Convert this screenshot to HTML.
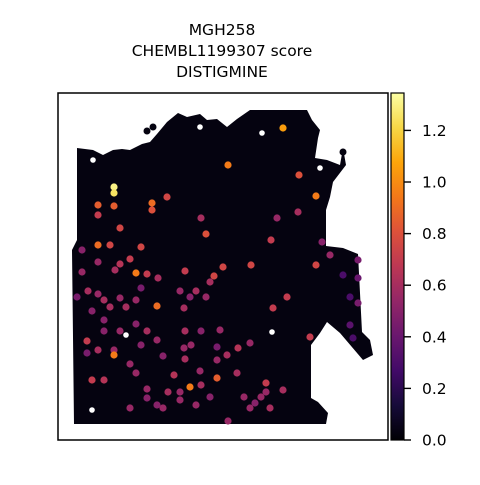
<!DOCTYPE html>
<html><head><meta charset="utf-8"><style>
body{margin:0;background:#fff;}
svg text{font-family:"DejaVu Sans","Liberation Sans",sans-serif;fill:#000;}
</style></head><body>
<svg id="chart" width="480" height="480" viewBox="0 0 480 480">
<defs>
<linearGradient id="inf" x1="0" y1="1" x2="0" y2="0">
<stop offset="0" stop-color="#000004"/><stop offset="0.1" stop-color="#160b39"/><stop offset="0.2" stop-color="#420a68"/><stop offset="0.3" stop-color="#6a176e"/><stop offset="0.4" stop-color="#932667"/><stop offset="0.5" stop-color="#bc3754"/><stop offset="0.6" stop-color="#dd513a"/><stop offset="0.7" stop-color="#f37819"/><stop offset="0.8" stop-color="#fca50a"/><stop offset="0.9" stop-color="#f6d746"/><stop offset="1" stop-color="#fcffa4"/>
</linearGradient>
</defs>
<g>
<text x="222" y="35" font-size="15.5" text-anchor="middle">MGH258</text>
<text x="222" y="56" font-size="15.5" text-anchor="middle">CHEMBL1199307 score</text>
<text x="222" y="77" font-size="15.5" text-anchor="middle">DISTIGMINE</text>
</g>
<rect x="58" y="93" width="330" height="347" fill="#fff" stroke="#000" stroke-width="1.5"/>
<polygon fill="#050310" points="77,148 93,150 103,155 113,150 122,149 130,150 142,144 150,142 157,134 167,122 178,113 187,117 200,114 207,120 217,119 227,127 237,119 250,110 307,110 312,120 320,130 318,138 315,158 327,160 340,165 343,148 346,165 333,182 330,197 326,210 326,246 343,248 358,254 362,332 370,340 373,355 363,360 340,333 327,322 320,333 311,345 311,398 318,402 328,413 326,424 74,424 72,250 77,240"/>
<g id="extra-spots"></g>
<g id="spots"></g>
<rect x="391" y="93" width="13" height="347" fill="url(#inf)" stroke="#000" stroke-width="1.2"/>
<g id="cticks"></g>
</svg>
<script>
const spotX=[283,228,299,316,114,114,98,114,152,167,152,98,201,277,298,120,206,98,82,110,141,271,322,316,330,343,358,358,350,358,350,353,136,130,120,115,98,82,147,158,185,223,251,214,210,157,77,88,98,104,120,126,136,141,110,92,180,196,206,190,184,136,120,104,104,87,98,114,147,141,157,163,185,191,201,220,238,227,217,217,250,273,287,310,87,114,130,136,184,185,237,217,200,174,92,104,147,147,168,180,190,201,180,163,157,196,210,228,244,250,255,261,266,270,283,266,130];
const spotY=[128,165,175,196,187,193,205,206,203,197,210,215,218,218,212,228,234,245,250,245,247,240,242,265,255,275,260,278,297,303,325,338,273,259,264,270,262,272,274,278,271,267,265,276,282,306,297,291,294,300,298,307,300,288,307,311,291,291,297,297,308,324,331,320,331,341,350,350,331,345,340,356,331,345,331,330,348,355,347,360,343,308,297,337,353,355,364,373,348,359,373,378,371,375,380,380,389,398,392,400,387,385,392,408,405,405,397,421,397,408,403,397,383,408,390,392,408];
const spotValue=[1.05,0.95,0.8,0.95,1.3,1.25,0.85,0.85,0.9,0.75,0.8,0.7,0.6,0.55,0.6,0.75,0.8,0.9,0.5,0.75,0.75,0.7,0.5,0.75,0.55,0.3,0.45,0.4,0.3,0.45,0.35,0.3,0.95,0.7,0.65,0.6,0.55,0.55,0.7,0.6,0.7,0.75,0.75,0.75,0.6,0.9,0.45,0.6,0.55,0.6,0.55,0.6,0.55,0.45,0.6,0.5,0.55,0.6,0.55,0.5,0.6,0.5,0.55,0.5,0.5,0.7,0.6,0.55,0.6,0.5,0.55,0.5,0.6,0.55,0.5,0.55,0.65,0.6,0.45,0.55,0.55,0.7,0.7,0.7,0.45,0.95,0.55,0.55,0.55,0.6,0.6,0.85,0.55,0.65,0.7,0.65,0.55,0.5,0.6,0.55,0.95,0.6,0.55,0.55,0.5,0.55,0.5,0.55,0.55,0.55,0.5,0.55,0.7,0.6,0.6,0.55,0.55];
const tickValues=[0,0.2,0.4,0.6,0.8,1.0,1.2];
const tickLabels=["0.0","0.2","0.4","0.6","0.8","1.0","1.2"];
const vmax=1.345;
const gapX=[93,200,262,320,272,126,92];
const gapY=[160,127,133,168,332,335,410];
const satX=[147,153,343,366];
const satY=[131,127,152,354];

const stops=["#000004","#160b39","#420a68","#6a176e","#932667","#bc3754","#dd513a","#f37819","#fca50a","#f6d746","#fcffa4"];
function hex(c){return [1,3,5].map(i=>parseInt(c.substr(i,2),16));}
function cmap(v){let t=Math.max(0,Math.min(1,v/vmax))*10;let i=Math.min(9,Math.floor(t));let f=t-i;let a=hex(stops[i]),b=hex(stops[i+1]);return 'rgb('+a.map((x,k)=>Math.round(x+(b[k]-x)*f)).join(',')+')';}
function yScale(v){return 440-(v/vmax)*347;}
const NS='http://www.w3.org/2000/svg';
const ex=document.getElementById('extra-spots');
for(let i=0;i<satX.length;i++){const c=document.createElementNS(NS,'circle');c.setAttribute('cx',satX[i]);c.setAttribute('cy',satY[i]);c.setAttribute('r',3.5);c.setAttribute('fill','#050310');


ex.appendChild(c);}
for(let i=0;i<gapX.length;i++){const c=document.createElementNS(NS,'circle');c.setAttribute('cx',gapX[i]);c.setAttribute('cy',gapY[i]);c.setAttribute('r',2.8);c.setAttribute('fill','#fff');


ex.appendChild(c);}
const g=document.getElementById('spots');
for(let i=0;i<spotX.length;i++){const c=document.createElementNS(NS,'circle');c.setAttribute('cx',spotX[i]);c.setAttribute('cy',spotY[i]);c.setAttribute('r',3.6);c.setAttribute('fill',cmap(spotValue[i]));


g.appendChild(c);}
const ct=document.getElementById('cticks');
for(let i=0;i<tickValues.length;i++){const y=yScale(tickValues[i]);
const l=document.createElementNS(NS,'line');l.setAttribute('x1',404);l.setAttribute('x2',411);l.setAttribute('y1',y);l.setAttribute('y2',y);l.setAttribute('stroke','#000');l.setAttribute('stroke-width',1.4);


ct.appendChild(l);
const t=document.createElementNS(NS,'text');t.setAttribute('x',422);t.setAttribute('y',y+5.5);t.setAttribute('font-size',15.5);t.textContent=tickLabels[i];


ct.appendChild(t);}
</script>
</body></html>
